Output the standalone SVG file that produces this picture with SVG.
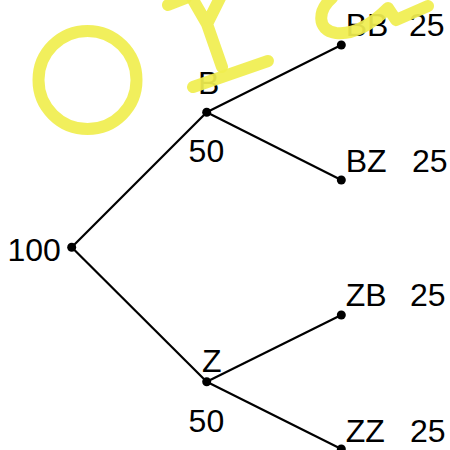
<svg xmlns="http://www.w3.org/2000/svg" width="450" height="450" viewBox="0 0 450 450">
<style>
.t{font-family:"Liberation Sans",Arial,sans-serif;font-size:32px;fill:#000}
.e{stroke:#000;stroke-width:2.2;fill:none}
.d{fill:#000}
.y{stroke:#f0ee50;stroke-width:12;fill:none;stroke-linecap:round;stroke-linejoin:round;opacity:0.93}
</style>
<rect width="450" height="450" fill="#fff"/>
<g id="connectors">
<line class="e" x1="71.7" y1="247.3" x2="206.7" y2="112.3"/>
<line class="e" x1="71.7" y1="247.3" x2="206.7" y2="381.7"/>
<line class="e" x1="206.7" y1="112.3" x2="341.3" y2="45"/>
<line class="e" x1="206.7" y1="112.3" x2="341.3" y2="180"/>
<line class="e" x1="206.7" y1="381.7" x2="341.3" y2="315"/>
<line class="e" x1="206.7" y1="381.7" x2="341.3" y2="449"/>
</g>
<g id="root"><circle class="d" cx="71.7" cy="247.3" r="4.5"/><text class="t" x="7.5" y="261">100</text></g>
<g id="B"><circle class="d" cx="206.7" cy="112.3" r="4.5"/><text class="t" x="198" y="94">B</text><text class="t" x="188.6" y="162">50</text></g>
<g id="Z"><circle class="d" cx="206.7" cy="381.7" r="4.5"/><text class="t" x="202" y="372">Z</text><text class="t" x="188.6" y="432">50</text></g>
<g id="BB"><circle class="d" cx="341.3" cy="45" r="4.5"/><text class="t" x="345.7" y="36">BB</text><text class="t" x="409" y="36">25</text></g>
<g id="BZ"><circle class="d" cx="341.3" cy="180" r="4.5"/><text class="t" x="345.7" y="172">BZ</text><text class="t" x="412" y="172">25</text></g>
<g id="ZB"><circle class="d" cx="341.3" cy="315" r="4.5"/><text class="t" x="345.7" y="306">ZB</text><text class="t" x="410" y="306">25</text></g>
<g id="ZZ"><circle class="d" cx="341.3" cy="449" r="4.5"/><text class="t" x="345.7" y="442">ZZ</text><text class="t" x="410" y="442">25</text></g>
<g id="scribble">
<circle class="y" cx="87.5" cy="80" r="49"/>
<path class="y" d="M168,5 L186,-2"/>
<path class="y" d="M192,-2 L207,24 L221,-4 M207,24 L222,67"/>
<path class="y" d="M193,87 L268,61"/>
<path class="y" d="M332,-2 C318,10 316,30 336,33 C356,35 374,22 388,8 L396,20 L428,6"/>
</g>
</svg>
